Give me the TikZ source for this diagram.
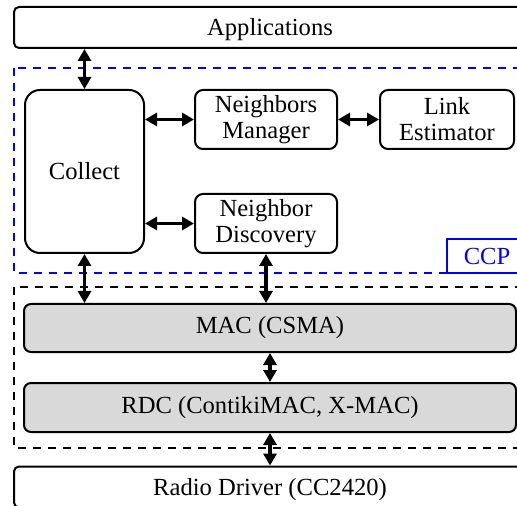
\documentclass[tikz,border=0pt]{standalone}
\usepackage{fontspec}
\setmainfont{Liberation Serif}
\newfontfamily\boxserif{Liberation Serif}
\usetikzlibrary{arrows.meta}
\newcommand\labelfont{\boxserif\fontsize{12.3}{13}\selectfont}
\definecolor{layergray}{gray}{0.85}
\tikzset{
  box/.style={draw, line width=1pt, inner sep=0pt, align=center, font=\labelfont},
  biarrow/.style={line width=1.6pt, {Triangle[length=6pt,width=6.5pt]}-{Triangle[length=6pt,width=6.5pt]}},
  group/.style={line width=1pt, dash pattern=on 4pt off 3.5pt},
}
\begin{document}
\begin{tikzpicture}[x=0.5pt,y=-0.5pt]
\useasboundingbox (0,0) rectangle (517,506);
\clip (0,0) rectangle (517,506);

% grouping frames
\draw[group, blue] (14,68) rectangle (580,273);
\draw[group, black] (14,287) rectangle (580,448);

% stack layers
\node[box, rounded corners=2.5pt, minimum width=256pt, minimum height=20.5pt, text depth=0.5pt] (app) at (270,27.5) {Applications};
\node[box, rounded corners=7.5pt, minimum width=59.5pt, minimum height=81.5pt] (coll) at (84.5,171.5) {Collect};
\node[box, rounded corners=4pt, minimum width=71pt, minimum height=29.5pt] (nm) at (266,119.5) {Neighbors\\Manager};
\node[box, rounded corners=4pt, minimum width=67pt, minimum height=29.5pt] (le) at (447,119.5) {Link\\Estimator};
\node[box, rounded corners=4pt, minimum width=71pt, minimum height=29.5pt] (nd) at (266,223.5) {Neighbor\\Discovery};
\node[box, draw=blue, text=blue, line width=1pt, minimum width=40pt, minimum height=17pt] (ccp) at (487,256) {CCP};
\node[box, fill=layergray, rounded corners=3.5pt, minimum width=246pt, minimum height=24pt] (mac) at (270,328) {MAC (CSMA)};
\node[box, fill=layergray, rounded corners=3.5pt, minimum width=246pt, minimum height=24.5pt] (rdc) at (270,407.5) {RDC (ContikiMAC, X-MAC)};
\node[box, rounded corners=2.5pt, minimum width=256pt, minimum height=20.5pt, text depth=0.5pt] (radio) at (270,487) {Radio Driver (CC2420)};

% interfaces
\draw[biarrow] (coll.north) -- (coll.north |- app.south);
\draw[biarrow] (nm.west -| coll.east) -- (nm.west);
\draw[biarrow] (nm.east) -- (le.west);
\draw[biarrow] (nd.west -| coll.east) -- (nd.west);
\draw[biarrow] (coll.south) -- (coll.south |- mac.north);
\draw[biarrow] (nd.south) -- (nd.south |- mac.north);
\draw[biarrow] (mac.south) -- (rdc.north);
\draw[biarrow] (rdc.south) -- (radio.north);
\end{tikzpicture}
\end{document}
